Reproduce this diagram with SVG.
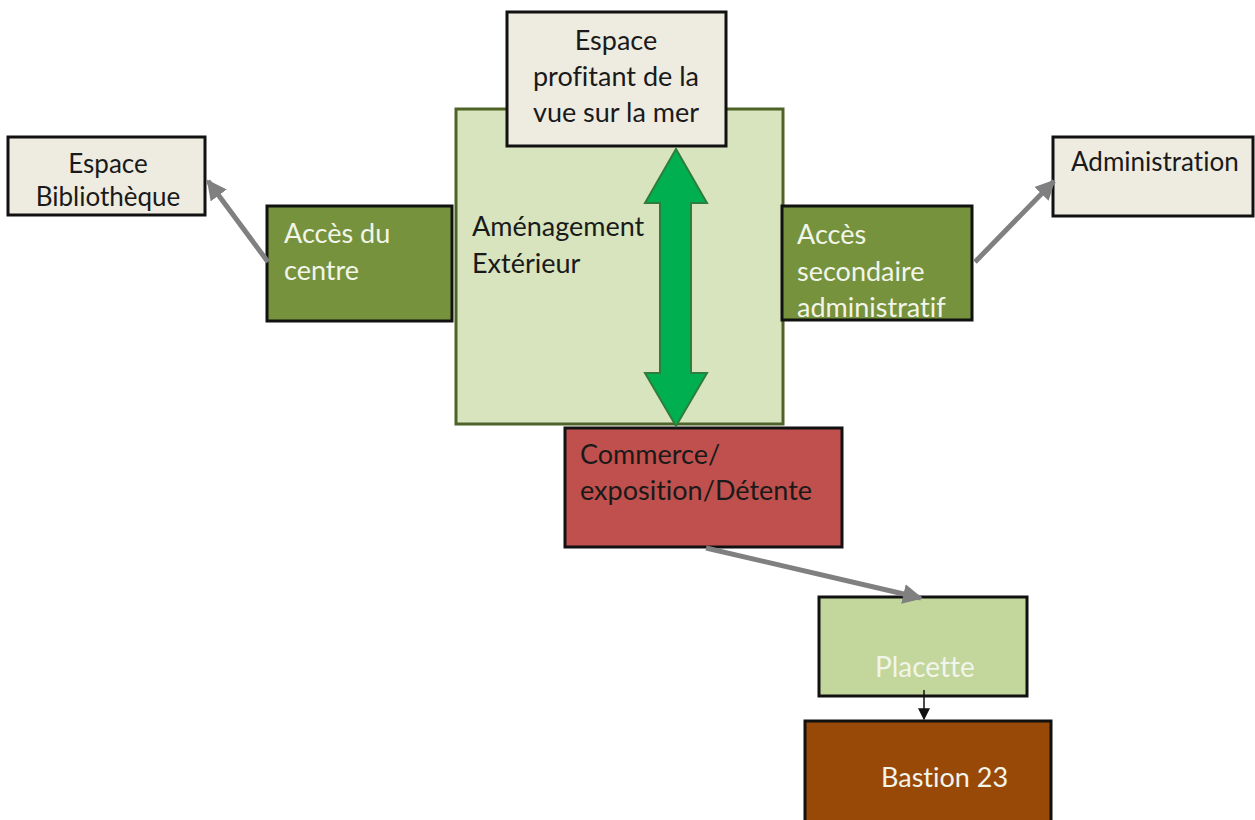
<svg xmlns="http://www.w3.org/2000/svg" width="1255" height="820" viewBox="0 0 1255 820">
  <defs>
    <style>
      .lbl { font-family: Lato, "Open Sans", "Liberation Sans", sans-serif; font-size: 27px; font-variant-ligatures: none; }
      .sm { font-size: 26px; }
      .dark { fill: #1a1a1a; }
      .light { fill: #f2f5ea; }
      .box { stroke: #111; stroke-width: 3; }
      .beige { fill: #eeece1; }
      .olive { fill: #76923c; }
      .conn { stroke: #808080; stroke-width: 5; fill: none; }
    </style>
    <marker id="grayHead" viewBox="0 0 10 10" refX="9" refY="5" markerWidth="4" markerHeight="4" orient="auto" markerUnits="strokeWidth">
      <path d="M0,0 L10,5 L0,10 Z" fill="#808080"/>
    </marker>
    <marker id="blackHead" viewBox="0 0 10 10" refX="9" refY="5" markerWidth="8" markerHeight="8" orient="auto" markerUnits="strokeWidth">
      <path d="M0,0 L10,5 L0,10 Z" fill="#111"/>
    </marker>
  </defs>
  <rect width="1255" height="820" fill="#ffffff"/>

  <!-- outdoor area -->
  <g id="amenagement">
    <rect x="456" y="109" width="327" height="315" fill="#d7e4bd" stroke="#4f6228" stroke-width="3"/>
    <text class="lbl dark" x="472" y="236">Aménagement</text>
    <text class="lbl dark" x="472" y="273">Extérieur</text>
  </g>

  <g id="vue-mer">
    <rect class="box beige" x="507" y="12" width="219" height="134"/>
    <text class="lbl dark" text-anchor="middle" x="616" y="50">Espace</text>
    <text class="lbl dark" text-anchor="middle" x="616" y="86">profitant de la</text>
    <text class="lbl dark" text-anchor="middle" x="616" y="122">vue sur la mer</text>
  </g>

  <g id="bibliotheque">
    <rect class="box beige" x="8" y="137" width="197" height="78"/>
    <text class="lbl sm dark" text-anchor="middle" x="108" y="173">Espace</text>
    <text class="lbl sm dark" text-anchor="middle" x="108" y="206">Bibliothèque</text>
  </g>

  <g id="acces-centre">
    <rect class="box olive" x="267" y="206" width="185" height="115"/>
    <text class="lbl light" x="284" y="243">Accès du</text>
    <text class="lbl light" x="284" y="280">centre</text>
  </g>

  <g id="acces-secondaire">
    <rect class="box olive" x="782" y="206" width="190" height="114"/>
    <text class="lbl light" x="797" y="244">Accès</text>
    <text class="lbl light" x="797" y="281">secondaire</text>
    <text class="lbl light" x="797" y="317">administratif</text>
  </g>

  <g id="administration">
    <rect class="box beige" x="1053" y="137" width="200" height="79"/>
    <text class="lbl sm dark" x="1071" y="171">Administration</text>
  </g>

  <g id="commerce">
    <rect class="box" fill="#c0504d" x="565" y="428" width="277" height="119"/>
    <text class="lbl dark" x="580" y="464">Commerce/</text>
    <text class="lbl dark" x="580" y="500">exposition/Détente</text>
  </g>

  <g id="placette">
    <rect class="box" fill="#c3d69b" x="819" y="597" width="208" height="99"/>
    <text class="lbl light" x="875" y="677" style="font-size:28px">Placette</text>
  </g>

  <g id="bastion">
    <rect class="box" fill="#984807" x="805" y="721" width="246" height="110"/>
    <text class="lbl light" x="881" y="787">Bastion 23</text>
  </g>

  <g id="connectors">
    <!-- two-way link between the sea view and the commerce block -->
    <path d="M676,149 L707,203 L691,203 L691,373 L707,373 L676,426 L645,373 L660,373 L660,203 L645,203 Z" fill="#00b050" stroke="#2e7d3c" stroke-width="2"/>
    <line class="conn" x1="268" y1="262" x2="208" y2="181" marker-end="url(#grayHead)"/>
    <line class="conn" x1="975" y1="262" x2="1054" y2="181" marker-end="url(#grayHead)"/>
    <line class="conn" x1="706" y1="548" x2="921" y2="598" marker-end="url(#grayHead)"/>
    <line x1="924" y1="690" x2="924" y2="719" stroke="#111" stroke-width="1.5" marker-end="url(#blackHead)"/>
  </g>
</svg>
